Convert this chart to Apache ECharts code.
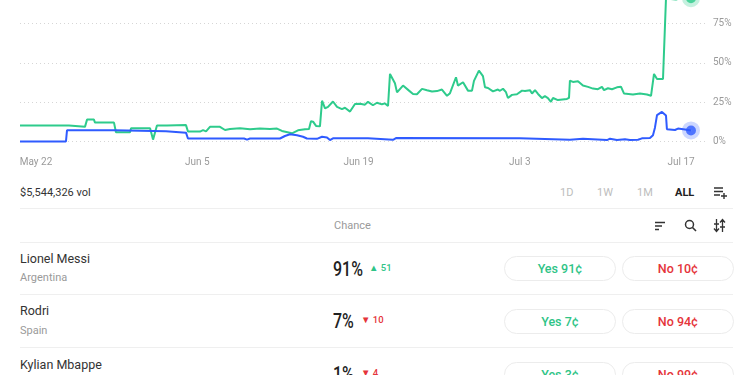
<!DOCTYPE html>
<html>
<head>
<meta charset="utf-8">
<script src="https://cdn.jsdelivr.net/npm/echarts@6/dist/echarts.min.js"></script>
<style>
  body { margin: 0; background: #fff; font-family: Roboto, "Noto Sans", sans-serif; }
  #page { position: relative; width: 750px; height: 375px; overflow: hidden; }
  /* the top of the chart (100% line) is cut off in the screenshot */
  #chart { position: absolute; left: 0; top: -16px; width: 750px; height: 188px; }
  .t { position: absolute; white-space: nowrap; line-height: 1; }
  .hr { position: absolute; left: 20px; width: 713px; height: 1px; background: #efefef; }
  .btn { position: absolute; width: 110px; height: 23px; border: 1px solid #ececec; border-radius: 13px;
         font-size: 12.5px; font-weight: 500; text-align: center; line-height: 23px; }
  .yes { color: #2fc487; }
  .no { color: #e5343a; }
  .big { font-size: 21px; font-weight: 500; color: #222; transform: scaleX(0.76); transform-origin: left center; }
  .chg { font-size: 9.5px; font-weight: 500; }
  .name { font-size: 12.5px; color: #333; }
  .sub { font-size: 11px; color: #9a9a9a; }
</style>
</head>
<body>
<div id="page">
  <div id="chart"></div>

  <div class="t" style="left:20px;top:187px;font-size:11px;color:#333;">$5,544,326 vol</div>
  <div class="t" style="left:560px;top:187px;font-size:11px;color:#bdbdbd;">1D</div>
  <div class="t" style="left:597px;top:187px;font-size:11px;color:#bdbdbd;">1W</div>
  <div class="t" style="left:637px;top:187px;font-size:11px;color:#bdbdbd;">1M</div>
  <div class="t" style="left:675px;top:187px;font-size:11px;color:#222;font-weight:700;">ALL</div>
  <svg style="position:absolute;left:713px;top:186px" width="15" height="13" viewBox="0 0 15 13">
    <path d="M1 2h9M1 5.5h9M1 9h6M11 7v6M8 10h6" stroke="#333" stroke-width="1.4" fill="none"/>
  </svg>
  <div class="hr" style="top:208px"></div>

  <div class="t" style="left:334px;top:220px;font-size:11px;color:#9a9a9a;">Chance</div>
  <svg style="position:absolute;left:654px;top:221px" width="12" height="10" viewBox="0 0 12 10">
    <path d="M1 1.5h10M1 5h7M1 8.5h4" stroke="#333" stroke-width="1.4" fill="none"/>
  </svg>
  <svg style="position:absolute;left:684px;top:219px" width="13" height="13" viewBox="0 0 13 13">
    <circle cx="5.5" cy="5.5" r="4" stroke="#333" stroke-width="1.5" fill="none"/>
    <path d="M8.5 8.5l3.5 3.5" stroke="#333" stroke-width="1.6"/>
  </svg>
  <svg style="position:absolute;left:713px;top:218px" width="13" height="15" viewBox="0 0 13 15">
    <path d="M3.5 1v12M1 10.5l2.5 3 2.5-3M9.5 14V2M7 4.5l2.5-3 2.5 3M1 6h5M7 9h5" stroke="#333" stroke-width="1.3" fill="none"/>
  </svg>
  <div class="hr" style="top:242px"></div>

  <!-- rows -->
  <div class="t name" style="left:20px;top:253px;">Lionel Messi</div>
  <div class="t sub" style="left:20px;top:272px;">Argentina</div>
  <div class="t big" style="left:333px;top:259px;">91%</div>
  <div class="t chg yes" style="left:369px;top:263px;">▲ 51</div>
  <div class="btn yes" style="left:504px;top:256px;">Yes 91¢</div>
  <div class="btn no" style="left:622px;top:256px;">No 10¢</div>
  <div class="hr" style="top:294px"></div>

  <div class="t name" style="left:20px;top:305px;">Rodri</div>
  <div class="t sub" style="left:20px;top:325px;">Spain</div>
  <div class="t big" style="left:333px;top:311px;">7%</div>
  <div class="t chg no" style="left:361px;top:315px;">▼ 10</div>
  <div class="btn yes" style="left:504px;top:309px;">Yes 7¢</div>
  <div class="btn no" style="left:622px;top:309px;">No 94¢</div>
  <div class="hr" style="top:347px"></div>

  <div class="t name" style="left:20px;top:359px;">Kylian Mbappe</div>
  <div class="t big" style="left:333px;top:364px;">1%</div>
  <div class="t chg no" style="left:361px;top:368px;">▼ 4</div>
  <div class="btn yes" style="left:504px;top:362px;">Yes 3¢</div>
  <div class="btn no" style="left:622px;top:362px;">No 99¢</div>
</div>

<script>
// x = days since May 22, y = chance in %
var dayLabels = { 0: 'May 22', 14: 'Jun 5', 28: 'Jun 19', 42: 'Jul 3', 56: 'Jul 17' };
var labelDays = [0, 14, 28, 42, 56];
var yTicks = [0, 25, 50, 75];

// Lionel Messi
var messiDays = [-1.39, 2.86, 2.95, 4.25, 4.43, 5.03, 5.12, 6.77, 6.94, 8.16, 8.25, 9.90, 10.16, 10.33, 10.50, 11.37,
  11.46, 13.02, 13.19, 14.24, 14.50, 14.76, 15.10, 15.97, 16.41, 16.84, 17.71, 18.58, 19.44, 20.31, 20.92, 21.35,
  22.22, 22.74, 23.35, 23.70, 23.87, 24.05, 24.31, 24.65, 24.83, 25.09, 25.35, 25.78, 26.13, 26.56, 26.82, 27.26,
  27.69, 28.13, 28.56, 28.82, 29.25, 29.60, 30.03, 30.30, 30.56, 30.73, 31.16, 31.34, 31.86, 32.03, 32.38, 32.73,
  33.07, 33.51, 33.94, 34.38, 34.81, 35.24, 35.68, 35.94, 36.46, 36.63, 37.07, 37.50, 37.85, 38.02, 38.45, 38.80,
  38.98, 39.24, 39.67, 40.10, 40.28, 40.54, 40.80, 40.97, 41.32, 41.75, 42.19, 42.45, 42.88, 43.06, 43.32, 43.58,
  43.92, 44.18, 44.44, 44.70, 44.88, 45.31, 46.09, 46.27, 46.35, 46.61, 47.05, 47.22, 47.48, 47.92, 48.35, 48.52,
  48.78, 49.13, 49.31, 49.65, 50.00, 50.43, 50.78, 51.04, 51.82, 52.43, 53.04, 53.39, 53.56, 53.65, 53.91, 54.43,
  54.51, 54.69, 55.12, 55.56, 55.90, 56.86];
var messiVals = [10.1, 10.1, 9.3, 9.3, 13.9, 13.9, 12.0, 12.0, 5.9, 5.9, 8.4, 8.4, 1.2, 1.2, 10.1, 10.1,
  10.5, 10.4, 6.3, 6.3, 7.2, 6.4, 9.3, 9.3, 7.3, 8.0, 8.4, 7.8, 8.3, 8.0, 8.2, 6.7,
  5.2, 7.1, 7.8, 8.0, 12.8, 12.6, 9.9, 9.6, 25.9, 21.0, 22.0, 25.4, 22.0, 20.6, 21.4, 19.0,
  23.8, 24.0, 23.4, 25.2, 23.0, 24.6, 23.6, 24.2, 22.5, 42.9, 37.0, 31.2, 35.5, 36.0, 32.3, 30.2,
  30.0, 33.4, 32.5, 31.7, 32.0, 33.0, 29.0, 30.7, 40.8, 35.5, 37.6, 32.3, 32.3, 38.5, 45.0, 41.5,
  34.4, 34.0, 31.8, 33.0, 32.2, 33.5, 31.3, 27.6, 29.6, 30.0, 32.3, 32.0, 32.6, 30.5, 32.6, 30.2,
  27.6, 28.8, 27.6, 25.2, 27.6, 26.3, 27.0, 27.7, 38.7, 37.8, 38.3, 37.8, 35.5, 34.7, 33.6, 34.7,
  33.2, 34.7, 32.6, 33.8, 33.2, 34.4, 34.8, 30.5, 29.8, 30.5, 29.8, 29.0, 29.5, 42.9, 39.7, 39.7,
  40.5, 91.0, 90.5, 90.2, 91.0, 91.0];

// Rodri
var rodriDays = [-1.39, 2.60, 2.69, 6.77, 6.86, 11.28, 11.37, 13.02, 13.19, 18.06, 18.32, 18.58, 21.18, 21.61, 22.05,
  22.66, 23.18, 23.52, 24.39, 24.83, 25.26, 25.52, 25.78, 28.82, 28.99, 30.99, 31.25, 42.01, 42.10, 46.35, 46.44,
  47.48, 47.57, 49.57, 49.83, 50.43, 51.13, 51.56, 52.26, 52.60, 53.30, 53.56, 53.73, 53.91, 54.08, 54.34, 54.51,
  54.69, 54.77, 55.47, 55.73, 56.34, 56.86];
var rodriVals = [0, 0, 7.1, 7.1, 6.5, 6.5, 5.6, 5.6, 1.9, 1.9, 1.2, 1.9, 1.9, 3.5, 4.6,
  4.0, 3.0, 1.9, 1.7, 3.0, 2.6, 0.9, 2.0, 2.0, 1.1, 1.1, 2.2, 2.0, 1.1, 1.1, 1.8,
  1.8, 0.9, 0.9, 1.8, 0.9, 1.5, 1.0, 1.1, 2.0, 2.2, 4.0, 8.8, 16.7, 16.5, 18.8, 18.8,
  16.5, 7.8, 7.3, 8.2, 7.6, 7.0];

var green = '#2ecb8c';
var blue = '#2f5bff';

function pairs(xs, ys) {
  var out = [];
  for (var i = 0; i < xs.length; i++) out.push([xs[i], ys[i]]);
  return out;
}
function last(xs, ys) {
  return [[xs[xs.length - 1], ys[ys.length - 1]]];
}

var myChart = echarts.init(document.getElementById('chart'), null, { renderer: 'canvas' });

var option = {
  animation: false,
  grid: { left: 20, right: 43, top: 0, bottom: 30.5 },
  xAxis: {
    type: 'value',
    min: -1.39,
    max: 58.25,
    axisLine: { show: false },
    axisTick: { show: false },
    splitLine: { show: false },
    axisLabel: {
      customValues: labelDays,
      formatter: function (v) { return dayLabels[v] || ''; },
      color: '#9a9a9a',
      fontSize: 10,
      margin: 16,
      fontFamily: 'Roboto'
    }
  },
  yAxis: {
    type: 'value',
    position: 'right',
    min: 0,
    max: 100,
    interval: 25,
    axisLine: { show: false },
    axisTick: { show: false },
    splitLine: { lineStyle: { type: [1, 3], color: '#d6d6d6', width: 1 } },
    axisLabel: {
      formatter: function (v) { return yTicks.indexOf(v) >= 0 ? v + '%' : ''; },
      color: '#9a9a9a',
      fontSize: 10,
      margin: 6,
      fontFamily: 'Roboto'
    }
  },
  series: [
    {
      name: 'Lionel Messi',
      type: 'line',
      data: pairs(messiDays, messiVals),
      showSymbol: false,
      lineStyle: { color: green, width: 2 },
      itemStyle: { color: green },
      clip: false
    },
    {
      name: 'Rodri',
      type: 'line',
      data: pairs(rodriDays, rodriVals),
      showSymbol: false,
      lineStyle: { color: blue, width: 2 },
      itemStyle: { color: blue },
      clip: false
    },
    {
      type: 'scatter',
      data: last(messiDays, messiVals),
      symbolSize: 10,
      itemStyle: { color: green, borderColor: 'rgba(46,203,140,0.35)', borderWidth: 8 }
    },
    {
      type: 'scatter',
      data: last(rodriDays, rodriVals),
      symbolSize: 10,
      itemStyle: { color: blue, borderColor: 'rgba(47,91,255,0.3)', borderWidth: 8 }
    }
  ]
};

option && myChart.setOption(option);
</script>
</body>
</html>
